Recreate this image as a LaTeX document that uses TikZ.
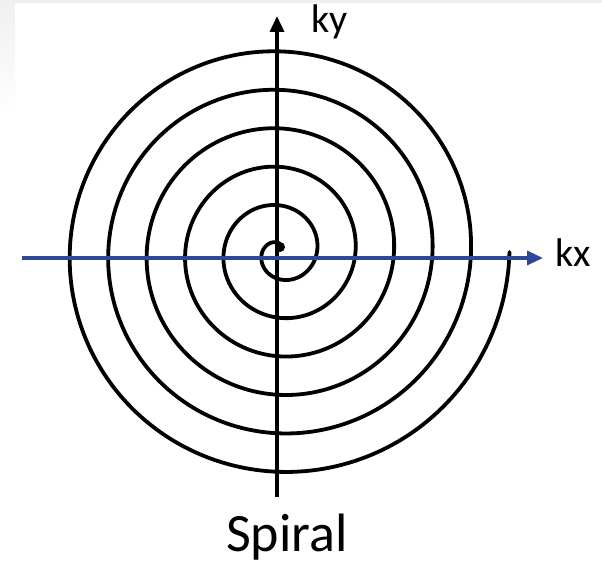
\documentclass[tikz,border=0pt]{standalone}
\usepackage{fontspec}
\setmainfont{Carlito}
\usetikzlibrary{arrows.meta}
\definecolor{axisblue}{RGB}{46,72,150}
\begin{document}
\begin{tikzpicture}[x=1pt,y=1pt,
  spiralline/.style={line width=3.8pt,black,line join=round,line cap=round},
  axisline/.style={line width=3.4pt,-{Triangle[length=16pt,width=14pt]}},
  lbl/.style={inner sep=0pt,font=\fontsize{40}{40}\selectfont},
  caption/.style={inner sep=0pt,font=\fontsize{54}{54}\selectfont}]
\useasboundingbox (0,0) rectangle (602,565);
\fill[white] (0,0) rectangle (602,565);
% light grey frame at the top-left
\shade[top color=black!6,bottom color=white] (0,450) rectangle (15,565);
\fill[black!6] (0,562) rectangle (602,565);
% spiral
\begin{scope}[shift={(280,313)}]
  \draw[spiralline] plot[domain=90:2160,samples=500,smooth]
    ({(0.106944*\x-1.5)*cos(\x)},{(0.106944*\x-1.5)*sin(\x)});
  \fill (0,5) circle (5);
\end{scope}
% axes
\coordinate (vb) at (277,68);
\coordinate (vt) at (277,549);
\coordinate (hl) at (22,307);
\coordinate (hr) at (543,307);
\draw[axisline,black] (vb) -- (vt);
\draw[axisline,axisblue] (hl) -- (hr);
% labels
\node[lbl,anchor=base west] (ky) at (311,532) {ky};
\node[lbl,anchor=base west] (kx) at (555,298) {kx};
\node[caption,anchor=base west] (cap) at (226,14) {Spiral};
\end{tikzpicture}
\end{document}
